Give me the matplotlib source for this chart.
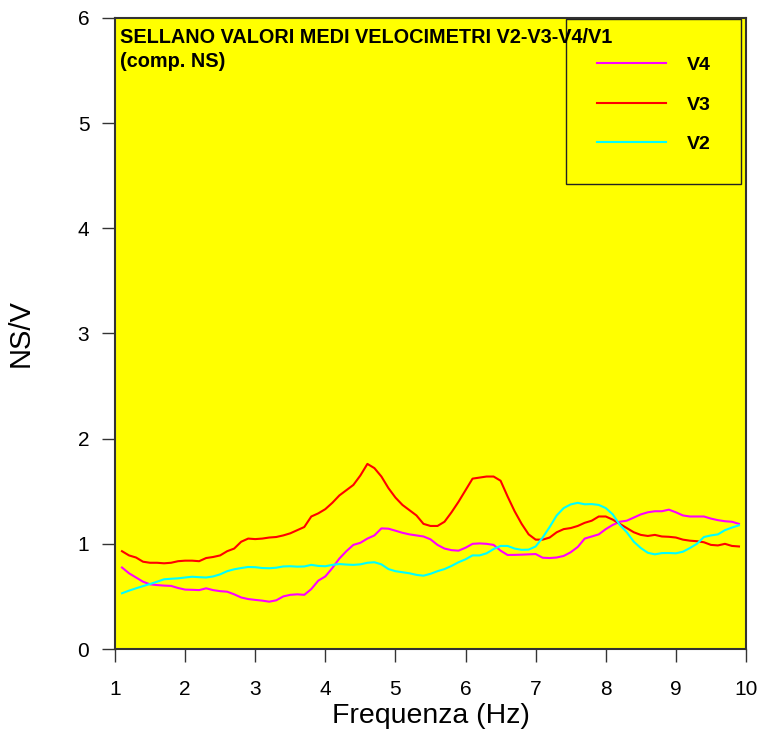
import matplotlib
matplotlib.use("Agg")
import matplotlib.pyplot as plt
from matplotlib.patches import Rectangle
import numpy as np

# frequency axis (Hz), 0.1 step
freq = np.round(np.arange(1.1, 9.95, 0.1), 1)

v4 = [0.775, 0.72, 0.68, 0.64, 0.615, 0.608, 0.603, 0.60, 0.58, 0.565,
      0.563, 0.56, 0.577, 0.56, 0.55, 0.545, 0.52, 0.49, 0.475, 0.467,
      0.46, 0.45, 0.463, 0.50, 0.515, 0.52, 0.515, 0.57, 0.65, 0.69,
      0.77, 0.86, 0.93, 0.99, 1.01, 1.05, 1.08, 1.147, 1.144, 1.125,
      1.105, 1.09, 1.08, 1.07, 1.043, 0.99, 0.955, 0.94, 0.935, 0.963,
      1.0, 1.004, 1.0, 0.99, 0.935, 0.894, 0.895, 0.897, 0.90, 0.903,
      0.868, 0.865, 0.87, 0.885, 0.92, 0.97, 1.05, 1.07, 1.09, 1.14,
      1.18, 1.21, 1.22, 1.25, 1.28, 1.30, 1.31, 1.31, 1.325, 1.30,
      1.27, 1.26, 1.26, 1.26, 1.24, 1.225, 1.215, 1.21, 1.19]

v3 = [0.93, 0.89, 0.87, 0.83, 0.82, 0.82, 0.815, 0.82, 0.835, 0.84,
      0.84, 0.835, 0.865, 0.875, 0.89, 0.93, 0.955, 1.02, 1.05, 1.045,
      1.05, 1.06, 1.065, 1.08, 1.10, 1.13, 1.16, 1.26, 1.29, 1.33,
      1.39, 1.46, 1.51, 1.56, 1.65, 1.76, 1.72, 1.64, 1.53, 1.44,
      1.37, 1.32, 1.27, 1.19, 1.17, 1.17, 1.21, 1.30, 1.40, 1.51,
      1.62, 1.63, 1.64, 1.64, 1.60, 1.45, 1.31, 1.19, 1.09, 1.04,
      1.04, 1.06, 1.11, 1.14, 1.15, 1.17, 1.20, 1.22, 1.26, 1.26,
      1.23, 1.19, 1.15, 1.11, 1.085, 1.075, 1.085, 1.07, 1.067, 1.06,
      1.04, 1.03, 1.025, 1.015, 0.99, 0.985, 1.0, 0.98, 0.975]

v2 = [0.53, 0.555, 0.577, 0.598, 0.618, 0.64, 0.663, 0.668, 0.672, 0.68,
      0.687, 0.683, 0.68, 0.69, 0.71, 0.74, 0.758, 0.77, 0.78, 0.778,
      0.77, 0.768, 0.773, 0.785, 0.787, 0.783, 0.785, 0.80, 0.79, 0.787,
      0.80, 0.808, 0.803, 0.80, 0.805, 0.82, 0.825, 0.805, 0.76, 0.74,
      0.73, 0.72, 0.705, 0.697, 0.715, 0.74, 0.76, 0.79, 0.825, 0.853,
      0.89, 0.89, 0.91, 0.95, 0.98, 0.98, 0.955, 0.943, 0.945, 0.975,
      1.06, 1.16, 1.27, 1.34, 1.375, 1.39, 1.376, 1.378, 1.37, 1.34,
      1.28, 1.18, 1.11, 1.02, 0.96, 0.915, 0.90, 0.912, 0.913, 0.91,
      0.925, 0.96, 1.0, 1.065, 1.08, 1.09, 1.13, 1.155, 1.176]

plt.rcParams['font.family'] = ['Liberation Sans', 'DejaVu Sans']

fig = plt.figure(figsize=(7.63, 7.43), dpi=100)
ax = fig.add_axes([0.1507, 0.1265, 0.8270, 0.8493])
ax.set_facecolor('#FFFF00')

ax.plot(freq, v4, color='#FF00FF', lw=1.5, label='V4')
ax.plot(freq, v3, color='#FF0000', lw=1.5, label='V3')
ax.plot(freq, v2, color='#00FFFF', lw=1.5, label='V2')

ax.set_xlim(1, 10)
ax.set_ylim(0, 6)
ax.set_xticks(range(1, 11))
ax.set_yticks(range(0, 7))
ax.tick_params(direction='out', length=9.5, width=1, labelsize=15,
               color='#333333', labelcolor='black')
ax.tick_params(axis='x', pad=13)
ax.tick_params(axis='y', pad=9)
for s in ax.spines.values():
    s.set_color('#333333')
    s.set_linewidth(1.5)

ax.set_xlabel('Frequenza (Hz)', fontsize=20.5)
ax.set_ylabel('NS/V', fontsize=21)
ax.xaxis.set_label_coords(0.5, -0.086)
ax.yaxis.set_label_coords(-0.127, 0.5)

# legend box (frame drawn separately)
ax.add_patch(Rectangle((0.7147, 0.737), 0.2773, 0.2615, transform=ax.transAxes,
                       facecolor='#FFFF00', edgecolor='#222222', lw=1.0, zorder=4))
leg = ax.legend(loc='upper left', bbox_to_anchor=(0.7639, 0.939),
                frameon=False, prop={'weight': 'bold', 'size': 14},
                handlelength=3.55, handletextpad=1.08, labelspacing=1.13,
                borderpad=0, borderaxespad=0)
leg.set_zorder(5)

title = ax.text(0.008, 0.984, 'SELLANO VALORI MEDI VELOCIMETRI V2-V3-V4/V1\n(comp. NS)',
                transform=ax.transAxes, ha='left', va='top', fontsize=14.3,
                fontweight='bold', linespacing=1.3)
title.set_zorder(6)

fig.savefig('out.png', dpi=100)
